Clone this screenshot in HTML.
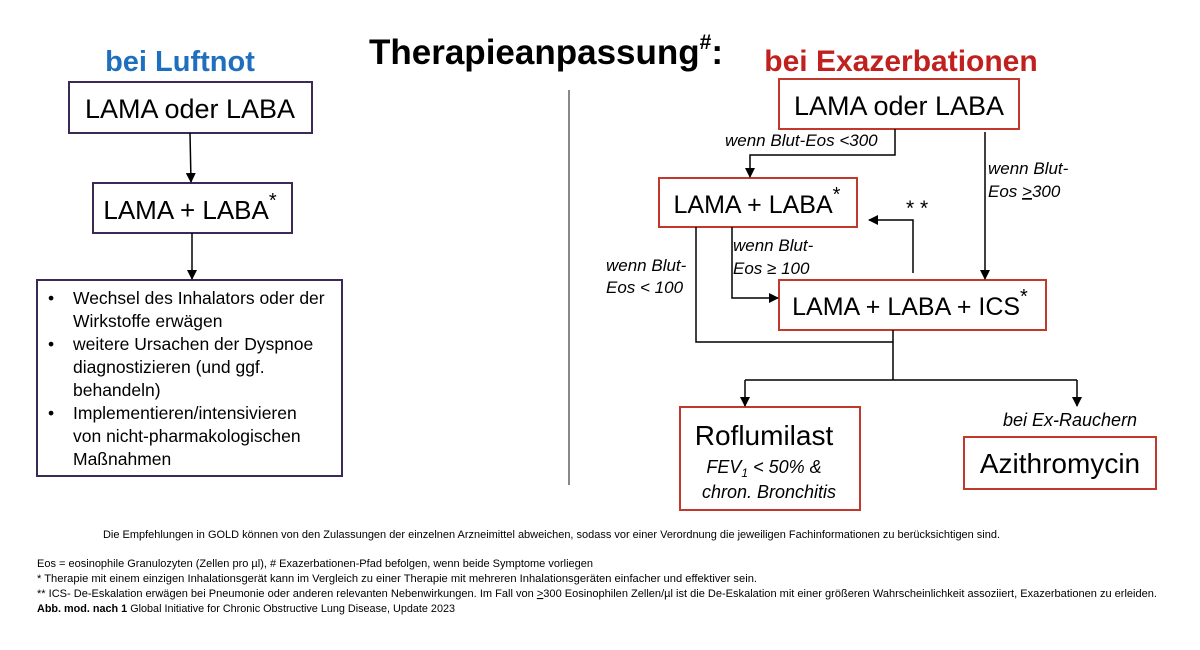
<!DOCTYPE html>
<html><head><meta charset="utf-8"><style>
html,body{margin:0;padding:0;background:#fff;}
svg{display:block;}
text{font-family:"Liberation Sans",sans-serif;}
</style></head><body>
<svg width="1200" height="650" viewBox="0 0 1200 650" xmlns="http://www.w3.org/2000/svg">
<defs>
<marker id="a" markerWidth="10" markerHeight="10" refX="9" refY="5" orient="auto" markerUnits="userSpaceOnUse">
<path d="M0,0 L10,5 L0,10 z" fill="#000"/></marker>
</defs>
<rect width="1200" height="650" fill="#fff"/>
<text x="180" y="71" font-size="29" font-weight="bold" fill="#1f6fbf" text-anchor="middle">bei Luftnot</text>
<text x="369" y="64" font-size="35" font-weight="bold" fill="#000">Therapieanpassung<tspan font-size="21" dy="-15">#</tspan><tspan dy="15">:</tspan></text>
<text x="901" y="71" font-size="30" font-weight="bold" fill="#c0201e" text-anchor="middle">bei Exazerbationen</text>

<g stroke="#3a2a55" stroke-width="2" fill="#fff">
<rect x="69" y="82" width="243" height="51"/>
<rect x="93" y="183" width="199" height="50"/>
<rect x="37" y="280" width="305" height="196"/>
</g>
<text x="190" y="118" font-size="27" text-anchor="middle">LAMA oder LABA</text>
<text x="190" y="219" font-size="26" text-anchor="middle">LAMA + LABA<tspan font-size="20" dy="-12">*</tspan></text>
<g stroke="#000" stroke-width="1.5" marker-end="url(#a)">
<line x1="190" y1="133" x2="191" y2="182"/>
<line x1="192" y1="233" x2="192" y2="279"/>
</g>
<g font-size="17.5">
<text x="48" y="304">•</text><text x="73" y="304">Wechsel des Inhalators oder der</text>
<text x="73" y="327">Wirkstoffe erwägen</text>
<text x="48" y="350">•</text><text x="73" y="350">weitere Ursachen der Dyspnoe</text>
<text x="73" y="373">diagnostizieren (und ggf.</text>
<text x="73" y="396">behandeln)</text>
<text x="48" y="419">•</text><text x="73" y="419">Implementieren/intensivieren</text>
<text x="73" y="442">von nicht-pharmakologischen</text>
<text x="73" y="465">Maßnahmen</text>
</g>

<line x1="569" y1="90" x2="569" y2="485" stroke="#888" stroke-width="2"/>

<g stroke="#c0392b" stroke-width="2" fill="#fff">
<rect x="779" y="79" width="240" height="50"/>
<rect x="659" y="178" width="198" height="49"/>
<rect x="779" y="280" width="267" height="50"/>
<rect x="680" y="407" width="180" height="103"/>
<rect x="964" y="437" width="192" height="52"/>
</g>
<text x="899" y="115" font-size="27" text-anchor="middle">LAMA oder LABA</text>
<text x="757" y="213" font-size="25" text-anchor="middle">LAMA + LABA<tspan font-size="20" dy="-12">*</tspan></text>
<text x="910" y="315" font-size="25" text-anchor="middle">LAMA + LABA + ICS<tspan font-size="20" dy="-12">*</tspan></text>
<text x="764" y="445" font-size="28" text-anchor="middle">Roflumilast</text>
<text x="764" y="473" font-size="18" font-style="italic" text-anchor="middle">FEV<tspan font-size="12" dy="4">1</tspan><tspan dy="-4"> &lt; 50% &amp;</tspan></text>
<text x="769" y="498" font-size="18" font-style="italic" text-anchor="middle">chron. Bronchitis</text>
<text x="1060" y="473" font-size="28" text-anchor="middle">Azithromycin</text>

<g stroke="#000" stroke-width="1.5" fill="none">
<polyline points="895,129 895,155 750,155 750,177" marker-end="url(#a)"/>
<line x1="985" y1="132" x2="985" y2="279" marker-end="url(#a)"/>
<polyline points="913,273 913,220 869,220" marker-end="url(#a)"/>
<polyline points="732,227 732,298 778,298" marker-end="url(#a)"/>
<polyline points="696,227 696,342 893,342"/>
<line x1="893" y1="330" x2="893" y2="380"/>
<polyline points="745,380 1077,380"/>
<line x1="745" y1="380" x2="745" y2="406" marker-end="url(#a)"/>
<line x1="1077" y1="380" x2="1077" y2="406" marker-end="url(#a)"/>
</g>
<g font-size="17" font-style="italic">
<text x="725" y="146">wenn Blut-Eos &lt;300</text>
<text x="988" y="174">wenn Blut-</text>
<text x="988" y="197">Eos <tspan text-decoration="underline">&gt;</tspan>300</text>
<text x="733" y="251">wenn Blut-</text>
<text x="733" y="274">Eos ≥ 100</text>
<text x="606" y="271">wenn Blut-</text>
<text x="606" y="293">Eos &lt; 100</text>
<text x="1003" y="426" font-size="18">bei Ex-Rauchern</text>
</g>
<text x="906" y="215" font-size="21">* *</text>

<g font-size="11" fill="#000">
<text x="103" y="538" textLength="897" lengthAdjust="spacingAndGlyphs">Die Empfehlungen in GOLD können von den Zulassungen der einzelnen Arzneimittel abweichen, sodass vor einer Verordnung die jeweiligen Fachinformationen zu berücksichtigen sind.</text>
<text x="37" y="567" textLength="556" lengthAdjust="spacingAndGlyphs">Eos =  eosinophile Granulozyten (Zellen pro µl), # Exazerbationen-Pfad befolgen, wenn beide Symptome vorliegen</text>
<text x="37" y="582" textLength="720" lengthAdjust="spacingAndGlyphs">* Therapie mit einem einzigen Inhalationsgerät kann im Vergleich zu einer Therapie mit mehreren Inhalationsgeräten einfacher und effektiver sein.</text>
<text x="37" y="597" textLength="1120" lengthAdjust="spacingAndGlyphs">** ICS- De-Eskalation erwägen bei Pneumonie oder anderen relevanten Nebenwirkungen. Im Fall von <tspan text-decoration="underline">&gt;</tspan>300 Eosinophilen Zellen/µl ist die De-Eskalation mit einer größeren Wahrscheinlichkeit assoziiert, Exazerbationen zu erleiden.</text>
<text x="37" y="612" textLength="418" lengthAdjust="spacingAndGlyphs"><tspan font-weight="bold">Abb. mod. nach 1</tspan> Global Initiative for Chronic Obstructive Lung Disease, Update 2023</text>
</g>
</svg>
</body></html>
